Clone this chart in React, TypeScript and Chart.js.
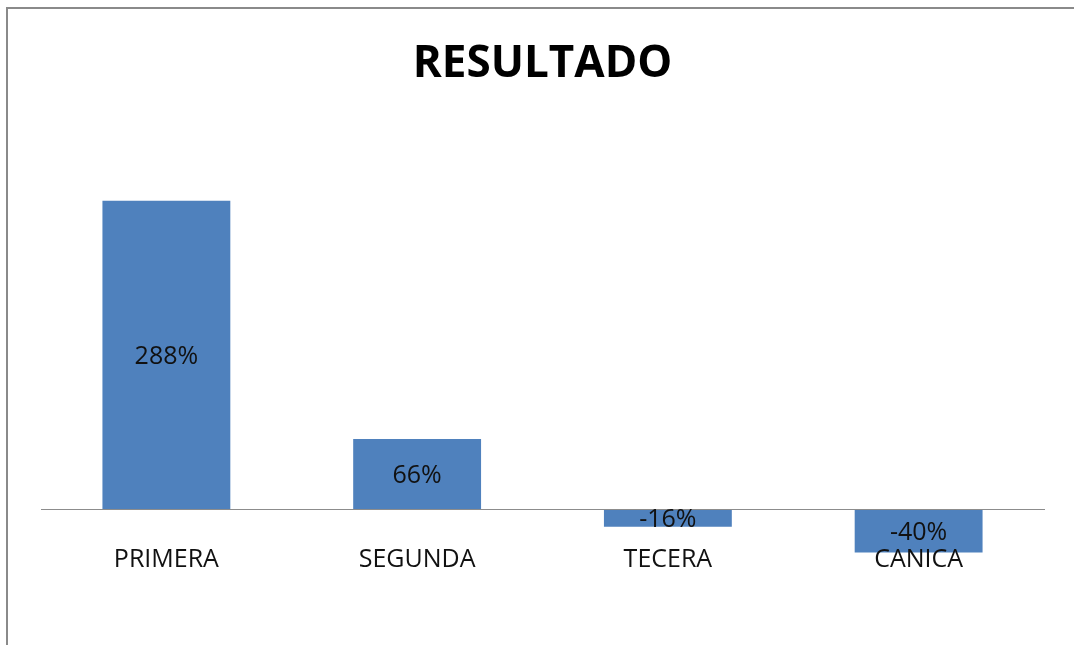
import React, { useEffect, useRef } from "react";
import { Chart, registerables } from "chart.js";

Chart.register(...registerables);

const categories = ["PRIMERA", "SEGUNDA", "TECERA", "CANICA"];
const values = [288, 66, -16, -40];
const titleText = "RESULTADO";

const BAR_COLOR = "#4F81BD";

const framePlugin = {
  id: "frame",
  beforeDraw(chart: any) {
    const ctx = chart.ctx;
    ctx.save();
    ctx.fillStyle = "#ffffff";
    ctx.fillRect(0, 0, chart.width, chart.height);
    ctx.strokeStyle = "#8a8a8a";
    ctx.lineWidth = 2;
    ctx.beginPath();
    ctx.moveTo(7, chart.height + 5);
    ctx.lineTo(7, 8);
    ctx.lineTo(chart.width + 5, 8);
    ctx.stroke();
    ctx.restore();
  },
};

const valueLabelPlugin = {
  id: "valueLabels",
  afterDraw(chart: any) {
    const ctx = chart.ctx;
    const meta = chart.getDatasetMeta(0);
    ctx.save();
    ctx.font = "25px 'Open Sans'";
    ctx.fillStyle = "#111111";
    ctx.textAlign = "center";
    ctx.textBaseline = "middle";
    meta.data.forEach((bar: any, i: number) => {
      const { x, y, base } = bar.getProps(["x", "y", "base"], true);
      const cy = (y + base) / 2 + 2;
      ctx.fillText(values[i] + "%", x, cy);
    });
    ctx.restore();
  },
};

export default function App() {
  const ref = useRef<HTMLCanvasElement>(null);
  useEffect(() => {
    document.body.style.margin = "0";
    const chart = new Chart(ref.current!, {
      type: "bar",
      data: {
        labels: categories,
        datasets: [
          {
            data: values,
            backgroundColor: BAR_COLOR,
            borderWidth: 0,
            barPercentage: 0.51,
            categoryPercentage: 1,
          },
        ],
      },
      options: {
        animation: false,
        responsive: false,
        maintainAspectRatio: false,
        layout: { padding: { left: 41, right: 30, top: 0, bottom: 28 } },
        plugins: {
          legend: { display: false },
          tooltip: { enabled: false },
          title: {
            display: true,
            text: titleText,
            color: "#000000",
            font: { family: "'Open Sans'", size: 44, weight: "bold", lineHeight: 1.2 },
            padding: { top: 38, bottom: 97 },
          },
        },
        scales: {
          y: {
            display: false,
            min: -100,
            max: 300,
          },
          x: {
            position: { y: 0 } as any,
            grid: { display: false, drawTicks: false },
            border: { display: true, color: "#8c8c8c", width: 1, z: 1 },
            ticks: {
              z: 1,
              color: "#111111",
              padding: 35,
              font: { family: "'Open Sans'", size: 25 },
              maxRotation: 0,
              autoSkip: false,
            },
          },
        },
      },
      plugins: [framePlugin, valueLabelPlugin],
    });
    return () => chart.destroy();
  }, []);
  return (
    <div style={{ position: "fixed", left: 0, top: 0, width: 1074, height: 645, overflow: "hidden" }}>
      <canvas ref={ref} width={1074} height={645} style={{ display: "block" }} />
    </div>
  );
}
